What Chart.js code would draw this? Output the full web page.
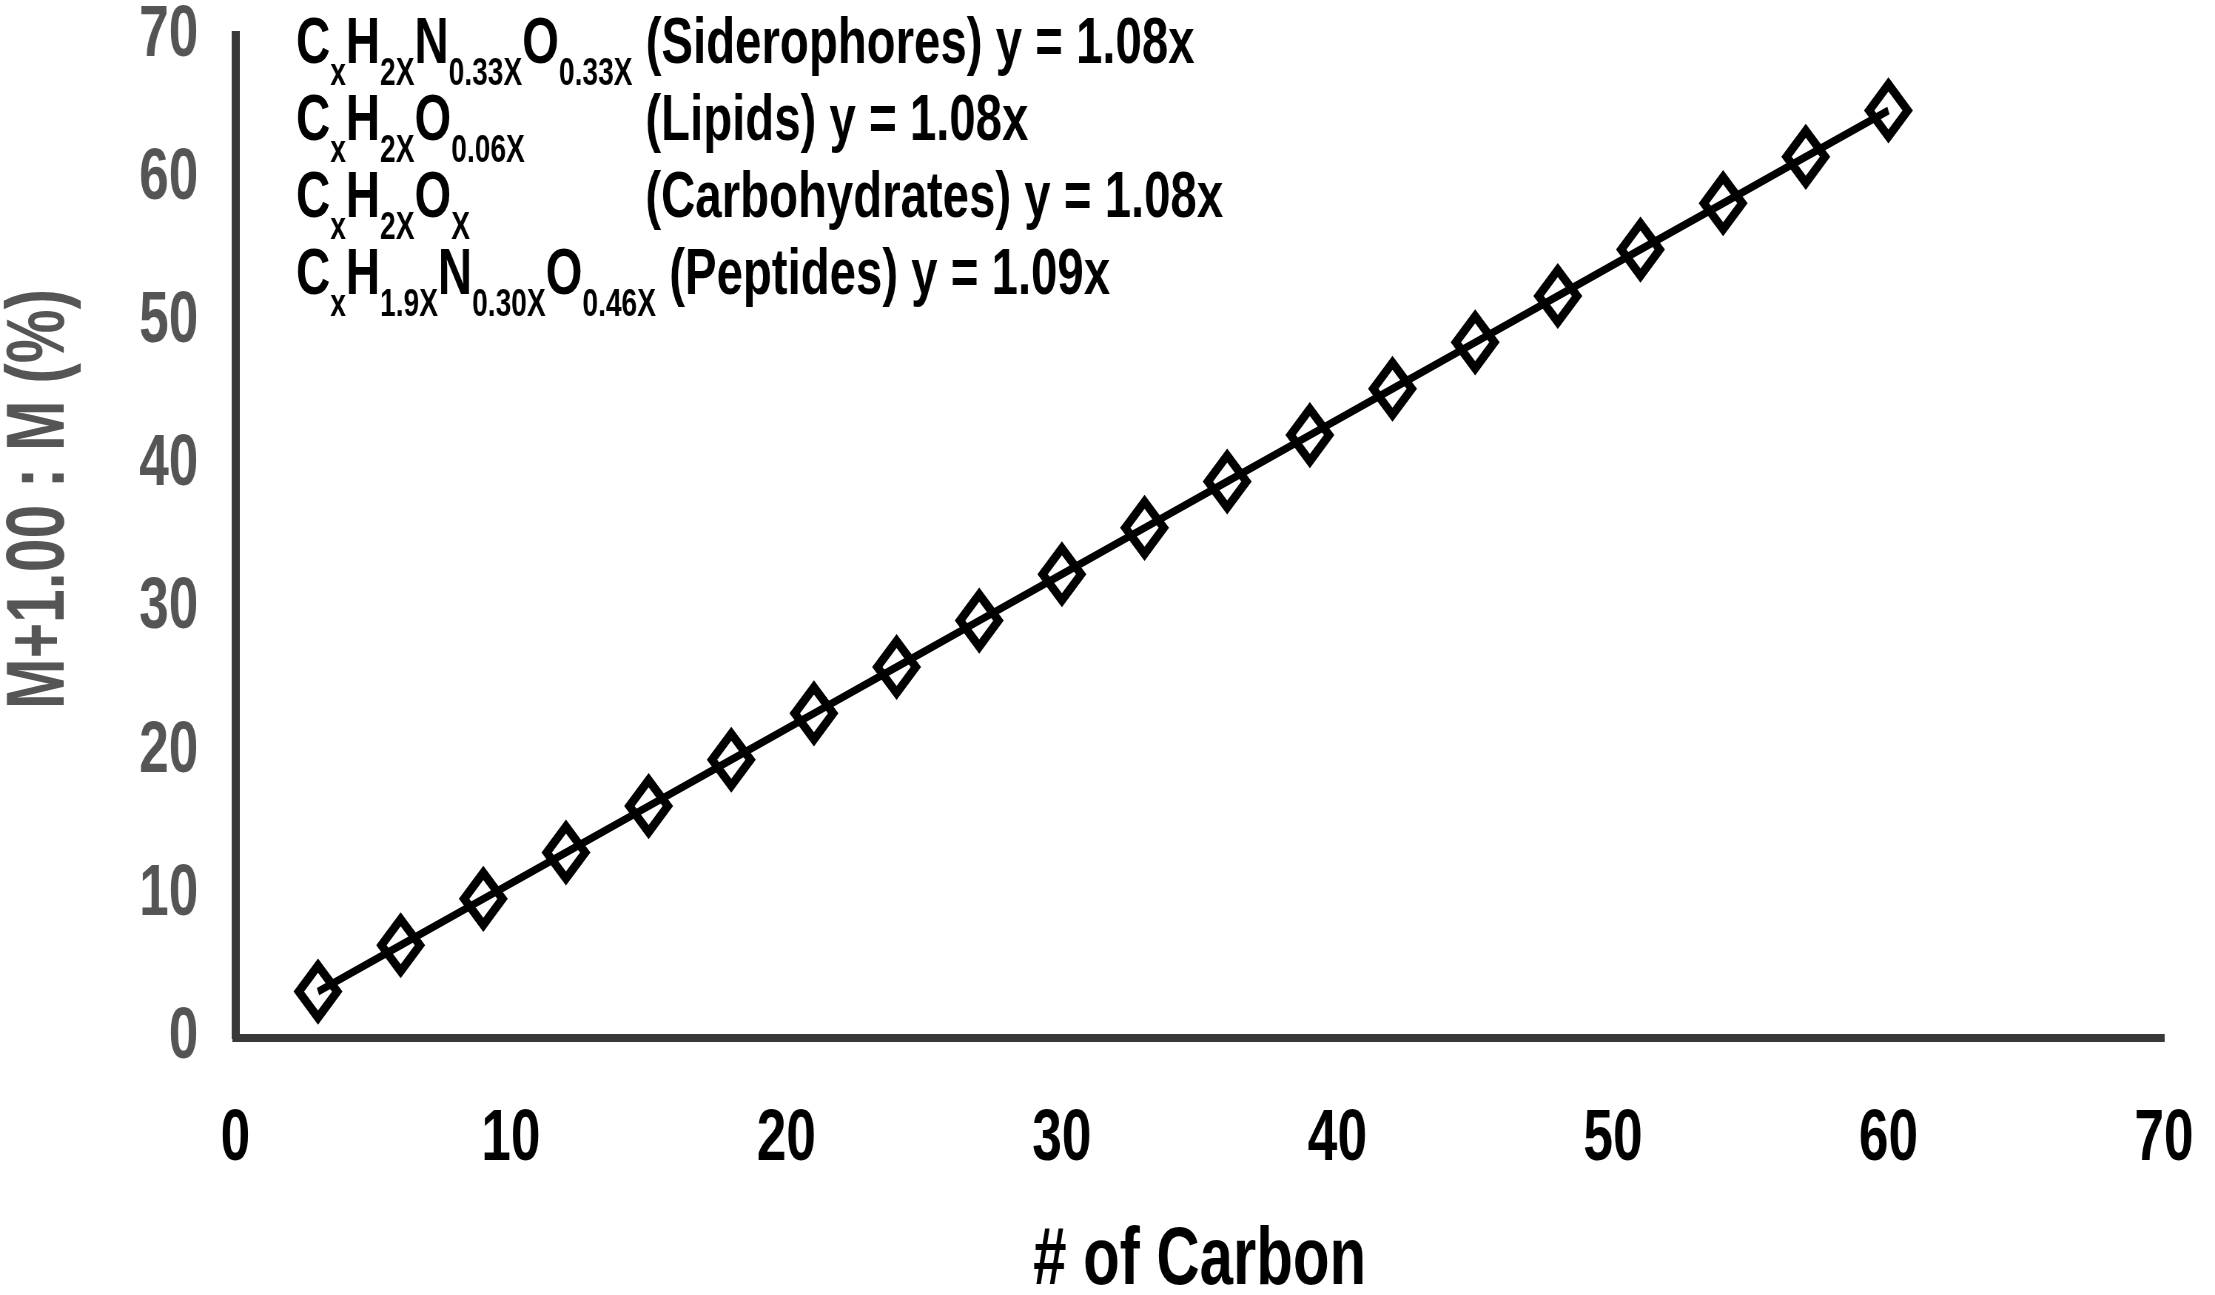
<!DOCTYPE html>
<html>
<head>
<meta charset="utf-8">
<script src="https://cdn.jsdelivr.net/npm/chart.js@4.4.1/dist/chart.umd.min.js"></script>
<style>
  html, body { margin: 0; padding: 0; background: #fff; overflow: hidden; }
  /* the figure uses a condensed face: draw wide, show squeezed */
  #chart-iso { display: block; width: 2215px !important; height: 1295px !important; }
</style>
</head>
<body>
<canvas id="chart-iso" width="2993" height="1295"></canvas>
<script>
// values
const carbonCount = [3, 6, 9, 12, 15, 18, 21, 24, 27, 30, 33, 36, 39, 42, 45, 48, 51, 54, 57, 60];
const isotopeRatio = [3.24, 6.48, 9.72, 12.96, 16.2, 19.44, 22.68, 25.92, 29.16, 32.4,
  35.64, 38.88, 42.12, 45.36, 48.6, 51.84, 55.08, 58.32, 61.56, 64.8];
const xTicks = [0, 10, 20, 30, 40, 50, 60, 70];
const yTicks = [0, 10, 20, 30, 40, 50, 60, 70];
const xTitle = "# of Carbon";
const yTitle = "M+1.00 : M (%)";

// legend lines: [text, isSubscript] pieces, then the label part
const formulaLines = [
  { formula: [["C", 0], ["x", 1], ["H", 0], ["2X", 1], ["N", 0], ["0.33X", 1], ["O", 0], ["0.33X", 1]], label: "(Siderophores) y = 1.08x" },
  { formula: [["C", 0], ["x", 1], ["H", 0], ["2X", 1], ["O", 0], ["0.06X", 1]], label: "(Lipids) y = 1.08x" },
  { formula: [["C", 0], ["x", 1], ["H", 0], ["2X", 1], ["O", 0], ["X", 1]], label: "(Carbohydrates) y = 1.08x" },
  { formula: [["C", 0], ["x", 1], ["H", 0], ["1.9X", 1], ["N", 0], ["0.30X", 1], ["O", 0], ["0.46X", 1]], label: "(Peptides) y = 1.09x" },
];

const FONT = '"Liberation Sans", Arial, sans-serif';
const SQUEEZE = 2215 / 2993;

const formulaLegend = {
  id: "formulaLegend",
  afterDraw(chart) {
    const ctx = chart.ctx;
    const mainFont = "bold 64px " + FONT;
    const subFont = "bold 38px " + FONT;
    const x0 = 400;
    const labelX = 872;
    ctx.save();
    ctx.fillStyle = "#000";
    ctx.textBaseline = "alphabetic";
    ctx.textAlign = "left";
    formulaLines.forEach((line, i) => {
      const base = 63 + i * 77;
      let x = x0;
      line.formula.forEach(([txt, sub]) => {
        ctx.font = sub ? subFont : mainFont;
        ctx.fillText(txt, x, sub ? base + 22 : base);
        x += ctx.measureText(txt).width;
      });
      ctx.font = mainFont;
      const lx = Math.max(labelX, x + ctx.measureText(" ").width);
      ctx.fillText(line.label, lx, base);
    });

    // rotated y title, condensed along its own direction
    ctx.translate(41 / SQUEEZE, 499);
    ctx.scale(1 / SQUEEZE, 1);
    ctx.rotate(-Math.PI / 2);
    ctx.scale(SQUEEZE, 1);
    ctx.font = "bold 82px " + FONT;
    ctx.fillStyle = "#555";
    ctx.textAlign = "center";
    ctx.textBaseline = "middle";
    ctx.fillText(yTitle, 0, 0);
    ctx.restore();
  },
};

function noEdgePadding(scale) {
  scale.paddingTop = 0;
  scale.paddingBottom = 0;
  scale.paddingLeft = 0;
  scale.paddingRight = 0;
}

const ctx = document.getElementById("chart-iso");
new Chart(ctx, {
  type: "line",
  data: {
    datasets: [
      {
        data: carbonCount.map((c, i) => ({ x: c, y: isotopeRatio[i] })),
        borderColor: "#000",
        borderWidth: 8,
        backgroundColor: "transparent",
        pointStyle: "rectRot",
        pointRadius: 26,
        pointBorderWidth: 10,
        pointBorderColor: "#000",
        pointBackgroundColor: "transparent",
        tension: 0,
        clip: false,
      },
    ],
  },
  options: {
    responsive: false,
    animation: false,
    devicePixelRatio: 1,
    layout: { padding: { top: 30, right: 69, bottom: 0, left: 0 } },
    plugins: {
      legend: { display: false },
      tooltip: { enabled: false },
    },
    scales: {
      x: {
        type: "linear",
        min: 0,
        max: 70,
        afterBuildTicks: (scale) => { scale.ticks = xTicks.map((v) => ({ value: v })); },
        afterFit: (scale) => { scale.height = 257; noEdgePadding(scale); },
        grid: { display: false, drawTicks: false },
        border: { display: true, color: "#383838", width: 8 },
        ticks: {
          padding: 73,
          color: "#000",
          font: { family: FONT, size: 72, weight: "bold", lineHeight: 0.8 },
        },
        title: {
          display: true,
          text: xTitle,
          color: "#000",
          padding: { top: 0, bottom: 1 },
          font: { family: FONT, size: 81, weight: "bold", lineHeight: 0.8 },
        },
      },
      y: {
        type: "linear",
        min: 0,
        max: 70,
        afterBuildTicks: (scale) => { scale.ticks = yTicks.map((v) => ({ value: v })); },
        afterFit: (scale) => { scale.width = 318; noEdgePadding(scale); },
        grid: { display: false, drawTicks: false },
        border: { display: true, color: "#383838", width: 11 },
        ticks: {
          padding: 50,
          color: "#555",
          font: { family: FONT, size: 72, weight: "bold", lineHeight: 0.8 },
        },
        title: { display: false },
      },
    },
  },
  plugins: [formulaLegend],
});
</script>
</body>
</html>
